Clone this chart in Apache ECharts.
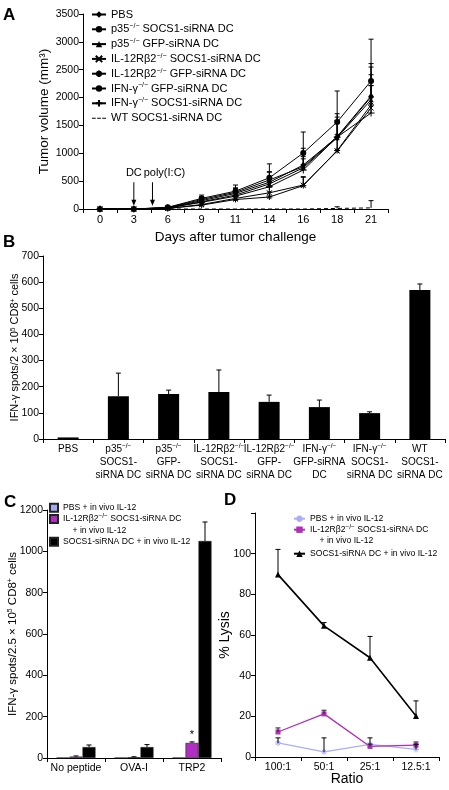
<!DOCTYPE html>
<html><head><meta charset="utf-8">
<script src="https://cdn.jsdelivr.net/npm/echarts@6/dist/echarts.min.js"></script>
<style>html,body{margin:0;padding:0;background:#fff}#c{width:449px;height:790px}</style>
</head><body><div id="c"></div>
<script>
const FONT = '"Liberation Sans", Arial, Helvetica, sans-serif';

// ---------- Panel A: tumor volume ----------
const daysA = ['0','3','6','9','11','14','16','18','21'];
const namesA = ['PBS','p35 SOCS1-siRNA DC','p35 GFP-siRNA DC','IL-12Rb2 SOCS1-siRNA DC','IL-12Rb2 GFP-siRNA DC','IFN-g GFP-siRNA DC','IFN-g SOCS1-siRNA DC','WT SOCS1-siRNA DC'];
const legendA = ['PBS','p35{s|−/−} SOCS1-siRNA DC','p35{s|−/−} GFP-siRNA DC','IL-12Rβ2{s|−/−} SOCS1-siRNA DC','IL-12Rβ2{s|−/−} GFP-siRNA DC','IFN-γ{s|−/−} GFP-siRNA DC','IFN-γ{s|−/−} SOCS1-siRNA DC','WT SOCS1-siRNA DC'];
const pbsA      = [0, 0, 20, 150, 280, 480, 790, 1290, 2010];
const p35SocsA  = [0, 0, 25, 170, 300, 520, 760, 1300, 2028];
const p35GfpA   = [0, 0, 20, 130, 250, 450, 740, 1280, 1960];
const il12SocsA = [0, 0, 10, 80, 190, 290, 430, 1040, 1813];
const il12GfpA  = [0, 0, 10, 70, 170, 215, 420, 1050, 1867];
const ifnGfpA   = [0, 0, 30, 190, 320, 560, 1005, 1562, 2298];
const ifnSocsA  = [0, 0, 20, 120, 230, 400, 700, 1290, 1723];
const wtSocsA   = [0, 0, 0, 0, 0, 0, 0, 10, 20];
const pbsErrA      = [0, 0, 10, 60, 90, 180, 300, 420, 600];
const p35SocsErrA  = [0, 0, 10, 50, 80, 150, 250, 350, 520];
const p35GfpErrA   = [0, 0, 10, 50, 70, 120, 200, 300, 450];
const il12SocsErrA = [0, 0, 5, 40, 60, 100, 150, 300, 400];
const il12GfpErrA  = [0, 0, 5, 40, 60, 90, 150, 250, 350];
const ifnGfpErrA   = [0, 0, 15, 60, 110, 250, 377, 556, 750];
const ifnSocsErrA  = [0, 0, 10, 40, 60, 120, 200, 300, 300];
const wtSocsErrA   = [0, 0, 0, 0, 0, 0, 0, 30, 130];
const ticksA = [0, 500, 1000, 1500, 2000, 2500, 3000, 3500];

// ---------- Panel B: IFN-g ELISPOT ----------
const catsB = ['PBS','p35 SOCS1','p35 GFP','IL12Rb2 SOCS1','IL12Rb2 GFP','IFN GFP','IFN SOCS1','WT SOCS1'];
const labelsB = ['PBS','p35{s|−/−}\nSOCS1-\nsiRNA DC','p35{s|−/−}\nGFP-\nsiRNA DC','IL-12Rβ2{s|−/−}\nSOCS1-\nsiRNA DC','IL-12Rβ2{s|−/−}\nGFP-\nsiRNA DC','IFN-γ{s|−/−}\nGFP-siRNA\nDC','IFN-γ{s|−/−}\nSOCS1-\nsiRNA DC','WT\nSOCS1-\nsiRNA DC'];
const valuesB = [6, 164, 172, 180, 142, 122, 99, 570];
const errB    = [0, 88, 15, 84, 26, 27, 5, 23];

// ---------- Panel C ----------
const catsC = ['No peptide','OVA-I','TRP2'];
const namesC = ['PBS + in vivo IL-12','IL-12Rβ2 SOCS1-siRNA DC + in vivo IL-12','SOCS1-siRNA DC + in vivo IL-12'];
const legendC = ['PBS + in vivo IL-12','IL-12Rβ2{s|−/−} SOCS1-siRNA DC\n    + in vivo IL-12','SOCS1-siRNA DC + in vivo IL-12'];
const pbsC  = [1, 1, 1];
const il12C = [7, 4, 73];
const il12ErrC = [3, 2, 5];
const socsC = [53, 53, 1050];
const socsErrC = [10, 12, 92];

// ---------- Panel D ----------
const ratiosD = ['100:1','50:1','25:1','12.5:1'];
const namesD = ['D PBS','D IL-12Rb2','D SOCS1'];
const pbsD  = [6.9, 2.5, 6.2, 3.7];
const pbsErrD = [2.5, 6.9, 3.2, 2.5];
const il12D = [12.3, 21.2, 5.2, 5.8];
const il12ErrD = [2.0, 1.8, 1.2, 1.6];
const socsD = [89.7, 64.5, 48.8, 20.2];
const socsErrD = [12.4, 1.6, 10.5, 7.4];

const SUP = {s: {fontSize: 6.5, verticalAlign: 'top', fontFamily: FONT, color: '#000'}};

function errBar(offset, color) {
  return function (params, api) {
    const c0 = api.coord([api.value(0), api.value(1)]);
    const c1 = api.coord([api.value(0), api.value(1) + api.value(2)]);
    const x = c0[0] + offset;
    return {type: 'group', children: [
      {type: 'line', shape: {x1: x, y1: c0[1], x2: x, y2: c1[1]}, style: {stroke: color, lineWidth: 1}},
      {type: 'line', shape: {x1: x - 2.5, y1: c1[1], x2: x + 2.5, y2: c1[1]}, style: {stroke: color, lineWidth: 1}}
    ]};
  };
}
function errSeries(gi, vals, errs, offset, color) {
  return {type: 'custom', xAxisIndex: gi, yAxisIndex: gi, z: 5, silent: true,
    renderItem: errBar(offset, color || '#000'),
    dimensions: ['x', 'y', 'e'], encode: {x: 0, y: 1},
    data: vals.map((v, i) => [i, v, errs[i]]).filter(d => d[2] > 0)};
}

const axisLineS = {lineStyle: {color: '#000', width: 1}};
const tickS = {show: true, length: 4, lineStyle: {color: '#000', width: 1}};
const plain = v => String(v);

function catAxis(gi, data, fs, extra) {
  return Object.assign({type: 'category', gridIndex: gi, data: data, boundaryGap: true,
    axisLine: axisLineS, axisTick: tickS, splitLine: {show: false}, nameMoveOverlap: false,
    axisLabel: {color: '#000', fontFamily: FONT, fontSize: fs, margin: 5, interval: 0, hideOverlap: false}}, extra || {});
}
function valAxis(gi, min, max, step, fs, extra) {
  return Object.assign({type: 'value', gridIndex: gi, min: min, max: max, interval: step,
    axisLine: {show: true, lineStyle: {color: '#000', width: 1}}, axisTick: tickS, splitLine: {show: false}, nameMoveOverlap: false,
    axisLabel: {color: '#000', fontFamily: FONT, fontSize: fs, margin: 4, formatter: plain}}, extra || {});
}
const nameStyle = (fs) => ({color: '#000', fontFamily: FONT, fontSize: fs, rich: {s: {fontSize: fs * 0.6, verticalAlign: 'top', fontFamily: FONT, color: '#000'}}});

const symA = [
  {symbol: 'diamond', size: 6},
  {symbol: 'circle', size: 4},
  {symbol: 'triangle', size: 5},
  {symbol: 'path://M0,0L10,10M10,0L0,10', size: 5},
  {symbol: 'path://M5,0L5,10M0,5L10,5M1.5,1.5L8.5,8.5M8.5,1.5L1.5,8.5', size: 6},
  {symbol: 'circle', size: 6},
  {symbol: 'path://M5,0L5,10M0,5L10,5', size: 7},
  {symbol: 'none', size: 0}
];
const dataA = [pbsA, p35SocsA, p35GfpA, il12SocsA, il12GfpA, ifnGfpA, ifnSocsA, wtSocsA];
const errA  = [pbsErrA, p35SocsErrA, p35GfpErrA, il12SocsErrA, il12GfpErrA, ifnGfpErrA, ifnSocsErrA, wtSocsErrA];

const series = [];
dataA.forEach((d, i) => {
  series.push({type: 'line', name: namesA[i], xAxisIndex: 0, yAxisIndex: 0, data: d,
    symbol: symA[i].symbol, symbolSize: symA[i].size, showSymbol: symA[i].symbol !== 'none',
    lineStyle: {color: '#000', width: 1, type: i === 7 ? [4, 3] : 'solid'},
    itemStyle: {color: '#000', borderColor: '#000', borderWidth: symA[i].symbol.startsWith('path') ? 1 : 0},
    z: 3});
});
errA.forEach((e, i) => series.push(errSeries(0, dataA[i], e, 0, '#000')));

// B
series.push({type: 'bar', name: 'B', xAxisIndex: 1, yAxisIndex: 1, data: valuesB, barWidth: 21, itemStyle: {color: '#000'}});
series.push(errSeries(1, valuesB, errB, 0, '#000'));

// C
const colC = ['#a4abf3', '#b02ec2', '#000'];
[pbsC, il12C, socsC].forEach((d, i) => {
  series.push({type: 'bar', name: namesC[i], xAxisIndex: 2, yAxisIndex: 2, barWidth: 13, barGap: '0%',
    data: d.map((v, j) => (i === 1 && j === 2) ? {value: v, label: {show: true, position: 'top', formatter: '*', fontSize: 11, color: '#000', distance: 2}} : v),
    itemStyle: {color: colC[i], borderColor: '#222', borderWidth: 0.6}});
});
series.push(errSeries(2, il12C, il12ErrC, 0, '#000'));
series.push(errSeries(2, socsC, socsErrC, 13, '#000'));

// D
const colD = ['#a8aef8', '#b02eb8', '#000'];
const symD = [{symbol: 'path://M5,0L5,10M0,5L10,5M1.5,1.5L8.5,8.5M8.5,1.5L1.5,8.5', size: 6}, {symbol: 'rect', size: 5}, {symbol: 'triangle', size: 6}];
[pbsD, il12D, socsD].forEach((d, i) => {
  series.push({type: 'line', name: namesD[i], xAxisIndex: 3, yAxisIndex: 3, data: d,
    symbol: symD[i].symbol, symbolSize: symD[i].size,
    lineStyle: {color: colD[i], width: i === 2 ? 1.6 : 1.3},
    itemStyle: {color: colD[i], borderColor: colD[i], borderWidth: i === 0 ? 1 : 0}, z: 3});
});
series.push(errSeries(3, pbsD, pbsErrD, 0, '#000'));
series.push(errSeries(3, il12D, il12ErrD, 0, '#222'));
series.push(errSeries(3, socsD, socsErrD, 0, '#000'));

const legTxt = (fs, lh) => ({color: '#000', fontFamily: FONT, fontSize: fs, lineHeight: lh, rich: SUP});
const legendDisplay = {};
namesA.forEach((n, i) => legendDisplay[n] = legendA[i]);
namesC.forEach((n, i) => legendDisplay[n] = legendC[i]);
namesD.forEach((n, i) => legendDisplay[n] = legendC[i]);
const fmt = (n) => legendDisplay[n] || n;

const dashedIcon = 'path://M0,0M15,8M0,3.5h4v1.2h-4zM5.5,3.5h4v1.2h-4zM11,3.5h4v1.2h-4z';
const legends = [
  {data: namesA.map((n, i) => i === 7 ? {name: n, icon: dashedIcon} : n), left: 91, top: 8, orient: 'vertical', itemGap: 1.8, itemWidth: 14, itemHeight: 8,
   textStyle: Object.assign(legTxt(11, 13), {rich: {s: {fontSize: 7, verticalAlign: 'top', fontFamily: FONT, color: '#000'}}}), formatter: fmt, selectedMode: false, padding: 0}
];
const cTops = [502, 513, 536];
namesC.forEach((n, i) => legends.push({data: [n], left: 49, top: i === 1 ? cTops[1] - 11.2 : cTops[i], orient: 'vertical',
  itemWidth: 8, itemHeight: 8, icon: 'rect', padding: 0, selectedMode: false, itemGap: 0,
  textStyle: Object.assign(legTxt(8.6, 11.4), i === 1 ? {padding: [11.4, 0, 0, 0]} : {}), formatter: fmt}));
const dTops = [513, 524, 548];
namesD.forEach((n, i) => legends.push({data: [n], left: 293, top: i === 1 ? dTops[1] - 11.4 : dTops[i], orient: 'vertical',
  itemWidth: 11, itemHeight: 8, padding: 0, selectedMode: false, itemGap: 0,
  textStyle: Object.assign(legTxt(8.6, 11.4), i === 1 ? {padding: [11.4, 0, 0, 0]} : {}), formatter: fmt}));

const option = {
  animation: false,
  backgroundColor: '#fff',
  textStyle: {fontFamily: FONT},
  grid: [
    {left: 83, top: 14, width: 305, height: 195, outerBoundsMode: 'none', containLabel: false},
    {left: 43, top: 256, width: 402, height: 183, outerBoundsMode: 'none', containLabel: false},
    {left: 47, top: 510, width: 174, height: 248, outerBoundsMode: 'none', containLabel: false},
    {left: 255, top: 513, width: 184, height: 244, outerBoundsMode: 'none', containLabel: false}
  ],
  xAxis: [
    catAxis(0, daysA, 11, {name: 'Days after tumor challenge', nameLocation: 'middle', nameGap: 21, nameTextStyle: nameStyle(13.5)}),
    Object.assign(catAxis(1, catsB, 10), {axisLabel: {color: '#000', fontFamily: FONT, fontSize: 10, lineHeight: 13, margin: 4, interval: 0, hideOverlap: false,
      formatter: (v, idx) => labelsB[idx], rich: {s: {fontSize: 6.5, verticalAlign: 'top', fontFamily: FONT, color: '#000'}}}}),
    catAxis(2, catsC, 10.5),
    catAxis(3, ratiosD, 10.5, {name: 'Ratio', nameLocation: 'middle', nameGap: 15, nameTextStyle: nameStyle(14)})
  ],
  yAxis: [
    valAxis(0, ticksA[0], ticksA[ticksA.length - 1], 500, 10.5, {name: 'Tumor volume (mm³)', nameLocation: 'middle', nameGap: 32, nameTextStyle: nameStyle(13.5)}),
    valAxis(1, 0, 700, 100, 10.5, {name: 'IFN-γ spots/2 × 10{s|5} CD8{s|+} cells', nameLocation: 'middle', nameGap: 22.5, nameTextStyle: nameStyle(11)}),
    valAxis(2, 0, 1200, 200, 10.5, {name: 'IFN-γ spots/2.5 × 10{s|5} CD8{s|+} cells', nameLocation: 'middle', nameGap: 28, nameTextStyle: nameStyle(11.5)}),
    Object.assign(valAxis(3, 0, 120, 20, 10.5, {name: '% Lysis', nameLocation: 'middle', nameGap: 23, nameTextStyle: nameStyle(14)}),
      {axisLabel: {color: '#000', fontFamily: FONT, fontSize: 10.5, margin: 4, formatter: v => v === 120 ? '' : String(v)}})
  ],
  legend: legends,
  series: series
};

const chart = echarts.init(document.getElementById('c'));
chart.setOption(option);

// annotations: panel letters and treatment arrows (positioned through the axis scale)
const pDC = chart.convertToPixel({gridIndex: 0}, [1, 0]);
const p6 = chart.convertToPixel({gridIndex: 0}, [2, 0]);
const yTop = chart.convertToPixel({gridIndex: 0}, [1, 480])[1];
const yTip = chart.convertToPixel({gridIndex: 0}, [1, 60])[1];
const yTxt = chart.convertToPixel({gridIndex: 0}, [1, 640])[1];
const xPoly = pDC[0] + (p6[0] - pDC[0]) * 0.55;
function arrow(x) {
  return [
    {type: 'line', shape: {x1: x, y1: yTop, x2: x, y2: yTip - 4}, style: {stroke: '#000', lineWidth: 1}},
    {type: 'polygon', shape: {points: [[x - 2.5, yTip - 6], [x + 2.5, yTip - 6], [x, yTip]]}, style: {fill: '#000'}}
  ];
}
const letter = (t, x, y) => ({type: 'text', left: x, top: y, style: {text: t, font: 'bold 17px ' + FONT, fill: '#000'}});
chart.setOption({graphic: [
  letter('A', 3, 7), letter('B', 3, 234), letter('C', 4, 494), letter('D', 224, 492),
  {type: 'text', x: pDC[0], y: yTxt, style: {text: 'DC', font: '11px ' + FONT, fill: '#000', align: 'center', verticalAlign: 'middle'}},
  {type: 'text', x: xPoly + 12, y: yTxt, style: {text: 'poly(I:C)', font: '11px ' + FONT, fill: '#000', align: 'center', verticalAlign: 'middle'}},
  ...arrow(pDC[0]), ...arrow(xPoly)
]});
</script></body></html>
